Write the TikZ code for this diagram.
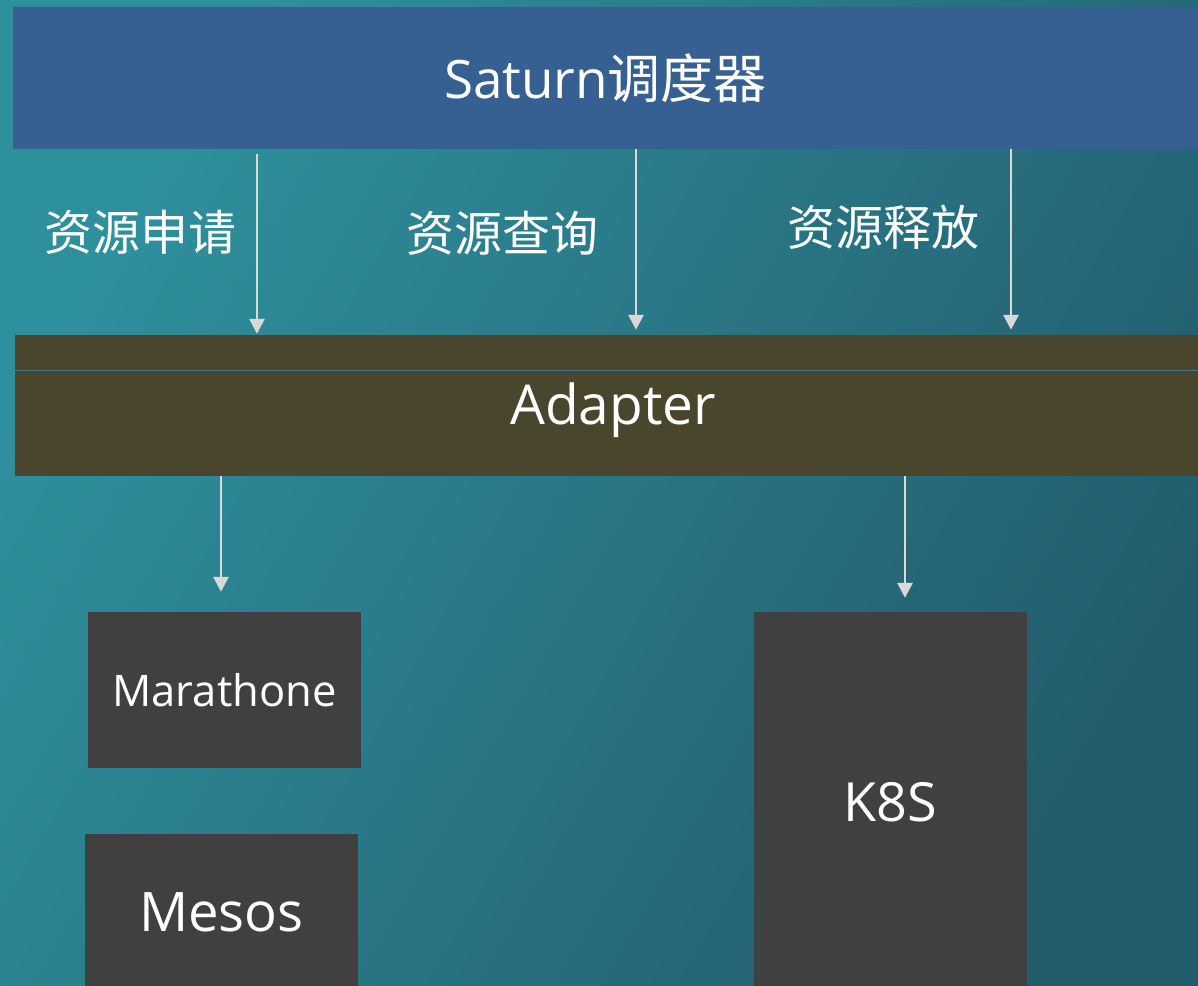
\documentclass[tikz,border=0pt]{standalone}
\usepackage{fontspec}
\setmainfont{Open Sans}
\newfontfamily\cjk{Noto Sans CJK SC}
\usetikzlibrary{arrows.meta}
\definecolor{bgA}{HTML}{2F909D}
\definecolor{bgB}{HTML}{235C6D}
\definecolor{barblue}{HTML}{366092}
\definecolor{adaptfill}{HTML}{4A452D}
\definecolor{boxgray}{HTML}{404040}
\definecolor{arrowgray}{HTML}{D9D9D9}
\definecolor{splitline}{HTML}{2E7D90}
\tikzset{basic/.style={fill=boxgray,text=white,inner sep=0pt,
                       text badly centered}}
\tikzset{flow/.style={draw=arrowgray,line width=2.8pt,
                      -{Triangle[width=15pt,length=15pt]}}}

\begin{document}
\begin{tikzpicture}[x=1pt,y=-1pt]
    \tikzstyle{bar}=[basic,fill=barblue]
    \tikzstyle{annot}=[text=white,font=\cjk\fontsize{48}{52}\selectfont]

    \clip (0,0) rectangle (1198,985);
    \shade[left color=bgA,right color=bgB,shading angle=60] (0,0) rectangle (1198,985);

    % layers
    \node[bar,minimum width=1185pt,minimum height=142pt,
          font=\fontsize{53}{58}\selectfont] (saturn) at (605.5,78) {Saturn{\cjk 调度器}};
    \node[basic,fill=adaptfill,minimum width=1183pt,minimum height=141pt] (adapter) at (606.5,405.5) {};
    \draw[splitline,line width=1pt] (adapter.west |- 0,370) -- (adapter.east |- 0,370);
    \node[text=white,font=\fontsize{55}{60}\selectfont] (adtext) at (613,410) {Adapter};

    \foreach \x/\s/\e/\lx/\ly/\t [count=\i] in {257/5/1/140/232/资源申请,
                                                636/0/5/502/233/资源查询,
                                                1011/0/5/883/227/资源释放}{%
          \node[annot] (req\i) at (\lx,\ly) {\t};
          \draw[flow,shorten <=\s pt,shorten >=\e pt] (saturn.south -| \x,0) -- (adapter.north -| \x,0);
        }

    % backends
    \node[basic,minimum width=273pt,minimum height=156pt,
          font=\fontsize{43.5}{48}\selectfont] (mara) at (224.5,690) {Marathone};
    \node[basic,minimum width=273pt,minimum height=156pt,
          font=\fontsize{54.5}{60}\selectfont] (mesos) at (221.5,912) {Mesos};
    \node[basic,minimum width=273pt,minimum height=380pt,
          font=\fontsize{54}{60}\selectfont] (k8s) at (890.5,802) {K8S};

    \draw[flow,shorten >=20pt] (adapter.south -| 221,0) -- (mara.north -| 221,0);
    \draw[flow,shorten >=14pt] (adapter.south -| 905,0) -- (k8s.north -| 905,0);
\end{tikzpicture}
\end{document}
